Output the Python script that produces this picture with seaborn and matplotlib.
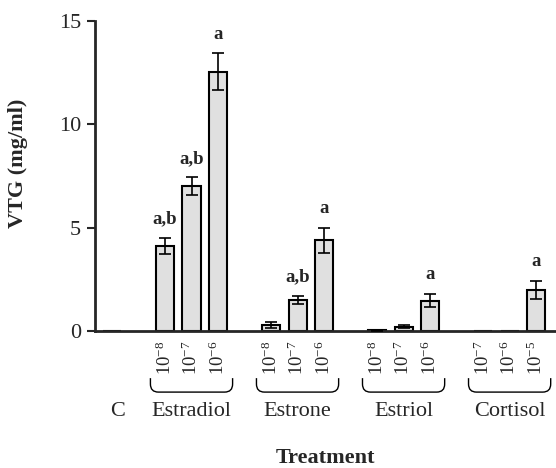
import numpy as np
import pandas as pd
import seaborn as sns
import matplotlib.pyplot as plt
from matplotlib.path import Path
from matplotlib.patches import PathPatch
import matplotlib.transforms as mtransforms

# Daten
groups = ["C", "Estradiol", "Estrone", "Estriol", "Cortisol"]
doses = {
    "C": [""],
    "Estradiol": ["-8", "-7", "-6"],
    "Estrone": ["-8", "-7", "-6"],
    "Estriol": ["-8", "-7", "-6"],
    "Cortisol": ["-7", "-6", "-5"],
}
vtg_mean = {
    "C": [0.0],
    "Estradiol": [4.12, 7.0, 12.55],
    "Estrone": [0.3, 1.5, 4.38],
    "Estriol": [0.04, 0.2, 1.47],
    "Cortisol": [0.0, 0.02, 2.0],
}
vtg_err = {
    "C": [0.0],
    "Estradiol": [0.4, 0.43, 0.9],
    "Estrone": [0.15, 0.21, 0.62],
    "Estriol": [0.02, 0.07, 0.33],
    "Cortisol": [0.0, 0.0, 0.43],
}
sig = {
    "C": [""],
    "Estradiol": ["a,b", "a,b", "a"],
    "Estrone": ["", "a,b", "a"],
    "Estriol": ["", "", "a"],
    "Cortisol": ["", "", "a"],
}

# Tabelle + Reihenfolge mit Leerplätzen zwischen den Gruppen
rows = []
order = []
ticklabels = []
for i, g in enumerate(groups):
    if i > 0:
        order.append(f"gap{i}")
        ticklabels.append("")
    for d, m, e, s in zip(doses[g], vtg_mean[g], vtg_err[g], sig[g]):
        key = f"{g} {d}"
        rows.append({"slot": key, "group": g, "vtg": m, "err": e, "sig": s})
        order.append(key)
        ticklabels.append("" if d == "" else "10$^{\\mathregular{%s}}$" % d)
df = pd.DataFrame(rows)

sns.set_style("ticks")
plt.rcParams["font.family"] = ["Liberation Serif", "DejaVu Serif"]
plt.rcParams["mathtext.fontset"] = "custom"
plt.rcParams["mathtext.rm"] = "Liberation Serif"
plt.rcParams["mathtext.it"] = "Liberation Serif:italic"
plt.rcParams["mathtext.bf"] = "Liberation Serif:bold"

fig = plt.figure(figsize=(5.56, 4.68), dpi=100)
ax = fig.add_axes([0.1709, 0.2927, 0.8291, 0.6624])

sns.barplot(data=df, x="slot", y="vtg", order=order, color="#e0e0e0",
            edgecolor="black", linewidth=1.5, width=0.68, errorbar=None,
            saturation=1, ax=ax)

# Fehlerbalken und Buchstaben über den Balken
lookup = df.set_index("slot")
for p in ax.patches:
    xc = p.get_x() + p.get_width() / 2
    key = order[int(round(xc))]
    r = lookup.loc[key]
    if r["err"] > 0:
        ax.errorbar(xc, r["vtg"], yerr=r["err"], fmt="none", ecolor="black",
                    elinewidth=1.2, capsize=4.5, capthick=1.2, zorder=5)
    if r["sig"]:
        ax.text(xc, r["vtg"] + r["err"] + 0.92, r["sig"], ha="center",
                va="center", fontsize=13.5, fontweight="bold")

ax.set_ylim(0, 15)
ax.set_xlim(-0.64, len(order) - 1 + 0.75)
ax.set_yticks([0, 5, 10, 15])
ax.set_xticks(range(len(order)))
ax.set_xticklabels(ticklabels, rotation=90, fontsize=13.5)
ax.tick_params(axis="x", length=0, pad=7)
ax.tick_params(axis="y", length=6, width=1.5, labelsize=16, pad=4)
sns.despine(ax=ax)
ax.spines["left"].set_linewidth(2)
ax.spines["bottom"].set_linewidth(2)
ax.set_xlabel("")
ax.set_ylabel("VTG (mg/ml)", fontsize=16, fontweight="bold")
ax.yaxis.label.set_va("center")
ax.yaxis.set_label_coords(-0.167, 0.542)

# Klammern und Gruppennamen unter den Dosen
trans = mtransforms.blended_transform_factory(ax.transData, ax.transAxes)
y_top, y_bot, dy, dx = -0.152, -0.197, 0.026, 0.3
for g in groups:
    pos = [order.index(f"{g} {d}") for d in doses[g]]
    center = np.mean(pos)
    if g == "C":
        ax.text(center + 0.2, -0.261, g, transform=trans, ha="center",
                va="center", fontsize=16)
        continue
    x0, x1 = center - 1.55, center + 1.55
    verts = [(x0, y_top), (x0, y_bot + dy), (x0, y_bot), (x0 + dx, y_bot),
             (x1 - dx, y_bot), (x1, y_bot), (x1, y_bot + dy), (x1, y_top)]
    codes = [Path.MOVETO, Path.LINETO, Path.CURVE3, Path.CURVE3,
             Path.LINETO, Path.CURVE3, Path.CURVE3, Path.LINETO]
    ax.add_patch(PathPatch(Path(verts, codes), transform=trans, fill=False,
                           lw=1.0, edgecolor="black", clip_on=False))
    ax.text(center, -0.261, g, transform=trans, ha="center", va="center",
            fontsize=16)

ax.text(0.5, -0.41, "Treatment", transform=ax.transAxes, ha="center",
        va="center", fontsize=16, fontweight="bold")

fig.savefig("out.png", dpi=100)
